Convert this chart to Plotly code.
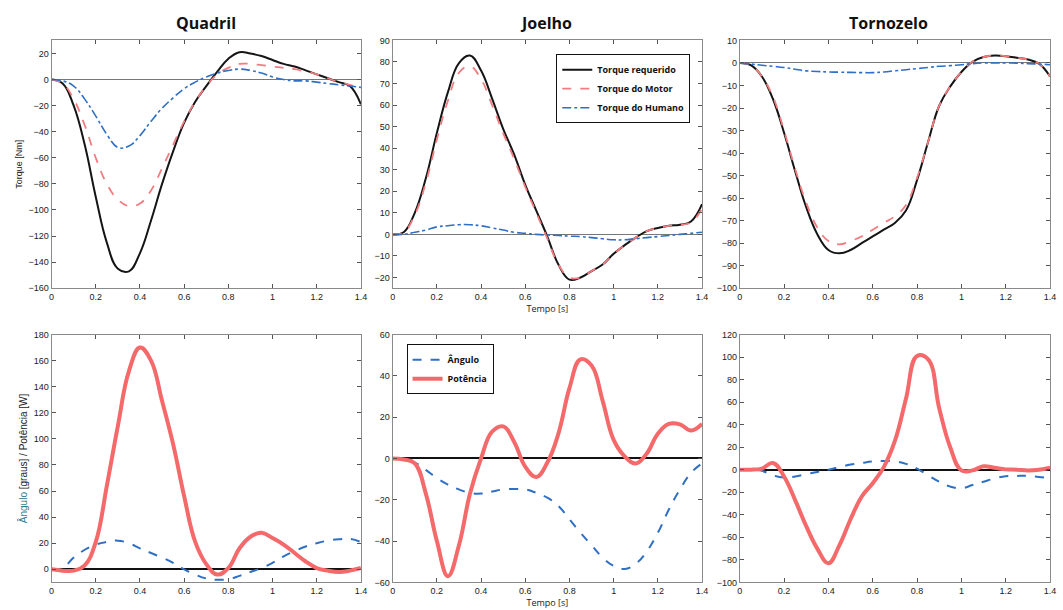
import plotly.graph_objects as go

# ---------------- data ----------------
t = [0, 0.05, 0.1, 0.15, 0.2, 0.25, 0.3, 0.35, 0.4, 0.45, 0.5, 0.55, 0.6, 0.65, 0.7,
     0.75, 0.8, 0.85, 0.9, 0.95, 1.0, 1.05, 1.1, 1.15, 1.2, 1.25, 1.3, 1.35, 1.4]

# Quadril torque
quad_req = [0, -3, -20, -50, -90, -125, -145, -147, -133, -108, -80, -55, -33, -17, -5,
            6, 16, 21, 20, 18, 15, 12, 10, 7, 4, 1, -2, -5, -19]
quad_mot = [0, -3, -15, -35, -60, -80, -92, -97, -95, -85, -68, -50, -32, -17, -5,
            4, 9, 12, 12, 11, 10, 9, 8, 6, 4, 1, -2, -4, -7]
quad_hum = [0, -1, -5, -15, -28, -42, -52, -51, -43, -32, -22, -14, -7, -2, 2,
            5, 7, 8, 7, 5, 2, 0, -1, -1, -2, -3, -4, -5, -6]

# Joelho torque
joe_req = [0, 1, 10, 26, 47, 66, 79.5, 83, 76, 63, 49, 37, 23, 11, -1,
           -14, -21, -20, -17, -14, -9, -5, -1.5, 1.5, 3, 4, 4.5, 6, 14]
joe_mot = [0, 1, 9, 24, 44, 62, 75, 78, 72, 60, 47, 35, 22, 10, -2,
           -14, -20, -20, -17, -14, -9, -5, -1.5, 1.5, 3, 4, 4.5, 5.5, 12]
joe_hum = [0, 0, 1, 2, 3.5, 4, 4.5, 4.5, 4, 3, 2, 1, 0.5, 0, -0.3,
           -0.5, -0.8, -1, -1.5, -2, -2.5, -2.5, -2, -1.5, -1, -0.5, 0, 0.5, 1]

# Tornozelo torque
tor_req = [0, -1, -6, -16, -31, -48, -64, -76, -83, -84.5, -83, -80, -77, -74, -71,
           -65.5, -52, -35, -19, -10.4, -4, 0.5, 2.6, 3.3, 3, 2.3, 1.5, -0.3, -6]
tor_mot = [0, -1, -6, -15, -30, -47, -62, -73, -79, -80.5, -79, -77, -74, -71, -68,
           -63, -51, -35, -19, -10.4, -4, 0.5, 2.6, 3.3, 3, 2.3, 1.5, -0.3, -6]
tor_hum = [0, -0.5, -1, -1.5, -2, -2.8, -3.5, -3.8, -4, -4.1, -4.2, -4.3, -4.3, -4, -3.5,
           -3, -2.5, -2, -1.5, -1.2, -0.8, -0.3, 0, 0, 0, -0.1, -0.3, -0.5, -0.8]

# Quadril power / angle
quad_pot = [0, -1, -1, 3, 21, 64, 110, 152, 170, 160, 129, 96, 56, 21, 4,
            -4, 1, 16, 25, 28, 24, 19, 12.5, 6, 1, -1, -2, -1, 1]
quad_ang = [0, 1, 9, 15, 19, 21, 22, 20, 16, 12.5, 9, 5, 0, -4, -7,
            -8, -7.5, -5, -2, 1, 5, 10, 14, 17.5, 20, 22, 23, 23.3, 21]

# Joelho power / angle
joe_pot = [0, -0.5, -2.4, -17, -40, -57, -42, -17, 0, 13, 15.5, 8, -4, -9, -2,
           12, 34, 48, 45, 28, 9, 1, -2.4, 2.4, 12, 16.7, 16.5, 13.5, 16.7]
joe_ang = [0, 0, -2, -5.5, -9.5, -12.7, -15, -16.7, -17, -16, -15, -14.8, -15, -16.7, -19,
           -23, -29.5, -36, -42, -48, -52, -53.5, -51, -45, -36, -24.7, -15, -7, -2.4]

# Tornozelo power / angle
tor_pot = [0, 0, 1, 6, -6, -27, -50, -70, -83, -67, -44, -24, -12, 2.3, 25.5,
           63, 101, 98, 54.6, 19.7, -0.6, -0.6, 3, 1.7, 0.3, 0, -0.6, 0, 1.7]
tor_ang = [0, 0, -1, -5, -7, -6, -4, -2, 0, 2.3, 4.6, 6, 7.3, 7.8, 7.3,
           5.2, 1, -5, -10.7, -15, -16.5, -13.6, -10.7, -7.8, -5.8, -5.5, -5.5, -6.4, -7.8]

titles = ["Quadril", "Joelho", "Tornozelo"]
x_ticks = [0, 0.2, 0.4, 0.6, 0.8, 1.0, 1.2, 1.4]
x_ticktext = ["0", "0.2", "0.4", "0.6", "0.8", "1", "1.2", "1.4"]

# ---------------- style ----------------
BLACK = "#151515"
RED = "#f27c80"
BLUE = "#2f6fc4"
POT = "#f4696a"

W, H = 1063, 610
xdom = [(49, 361), (393, 705), (743, 1056)]
ydom_top = (36, 288)
ydom_bot = (335, 587)

def px_x(a, b):
    return [a / W, b / W]

def px_y(top, bot):
    return [(H - bot) / H, (H - top) / H]

fig = go.Figure()

def add(xa, ya, y, name, color, width, dash, legend=None, show=False):
    fig.add_trace(go.Scatter(
        x=t, y=y, mode="lines", name=name, xaxis=xa, yaxis=ya,
        line=dict(color=color, width=width, dash=dash, shape="spline", smoothing=1.2),
        showlegend=show, legend=legend))

# top row
add("x", "y", quad_req, "Torque requerido", BLACK, 2, "solid")
add("x", "y", quad_mot, "Torque do Motor", RED, 1.8, "dash")
add("x", "y", quad_hum, "Torque do Humano", BLUE, 1.6, "dashdot")
add("x2", "y2", joe_req, "Torque requerido", BLACK, 2, "solid", "legend", True)
add("x2", "y2", joe_mot, "Torque do Motor", RED, 1.8, "dash", "legend", True)
add("x2", "y2", joe_hum, "Torque do Humano", BLUE, 1.6, "dashdot", "legend", True)
add("x3", "y3", tor_req, "Torque requerido", BLACK, 2, "solid")
add("x3", "y3", tor_mot, "Torque do Motor", RED, 1.8, "dash")
add("x3", "y3", tor_hum, "Torque do Humano", BLUE, 1.6, "dashdot")
# bottom row
add("x4", "y4", quad_ang, "Ângulo", BLUE, 2, "dash")
add("x4", "y4", quad_pot, "Potência", POT, 4, "solid")
add("x5", "y5", joe_ang, "Ângulo", BLUE, 2, "dash", "legend2", True)
add("x5", "y5", joe_pot, "Potência", POT, 4, "solid", "legend2", True)
add("x6", "y6", tor_ang, "Ângulo", BLUE, 2, "dash")
add("x6", "y6", tor_pot, "Potência", POT, 4, "solid")

yranges = [(-160, 30, 20), (-25, 90, 10), (-100, 10, 10),
           (-10, 180, 20), (-60, 60, 20), (-100, 120, 20)]

axis_common = dict(showgrid=False, showline=True, linecolor="#8a8a8a", linewidth=1,
                   mirror="ticks", ticks="inside", ticklen=4, tickcolor="#555",
                   tickfont=dict(family="Arial, Liberation Sans, sans-serif", size=9, color="#222"))

layout = dict(width=W, height=H, margin=dict(l=0, r=0, t=0, b=0),
              paper_bgcolor="white", plot_bgcolor="white")
for i in range(6):
    col = i % 3
    row = i // 3
    sfx = "" if i == 0 else str(i + 1)
    lo, hi, dt = yranges[i]
    yd = ydom_top if row == 0 else ydom_bot
    layout["xaxis" + sfx] = dict(axis_common, domain=px_x(*xdom[col]), range=[0, 1.4],
                                 tickvals=x_ticks, ticktext=x_ticktext,
                                 anchor="y" + sfx, zeroline=False)
    layout["yaxis" + sfx] = dict(axis_common, domain=px_y(*yd), range=[lo, hi], dtick=dt,
                                 anchor="x" + sfx, zeroline=True,
                                 zerolinecolor="#777" if row == 0 else "#111",
                                 zerolinewidth=1.2 if row == 0 else 2)

layout["yaxis"]["title"] = dict(text="Torque [Nm]", font=dict(size=9, color="#222",
                                family="Arial, sans-serif"), standoff=4)
layout["yaxis4"]["title"] = dict(
    text="<span style='color:#2c7f93'>Ângulo</span> [graus] / Potência [W]",
    font=dict(size=10, color="#222", family="Arial, sans-serif"), standoff=4)
layout["xaxis2"]["title"] = dict(text="Tempo [s]", font=dict(size=9, color="#222",
                                 family="Open Sans, sans-serif"), standoff=4)
layout["xaxis5"]["title"] = dict(text="Tempo [s]", font=dict(size=9, color="#222",
                                 family="Open Sans, sans-serif"), standoff=2)

legend_font = dict(family="Open Sans, sans-serif", size=9, color="#111", weight="bold")
layout["legend"] = dict(x=558 / W, y=(H - 50) / H, xanchor="left", yanchor="top",
                        bgcolor="white", bordercolor="#111", borderwidth=1,
                        font=legend_font, tracegroupgap=0, itemwidth=30)
layout["legend2"] = dict(x=407 / W, y=(H - 345) / H, xanchor="left", yanchor="top",
                         bgcolor="white", bordercolor="#111", borderwidth=1,
                         font=legend_font, tracegroupgap=0, itemwidth=30)

annotations = []
centers = [205, 548, 893]
for name, cx in zip(titles, centers):
    annotations.append(dict(text="<b>" + name + "</b>", x=cx / W, y=(H - 18) / H,
                            xref="paper", yref="paper", showarrow=False,
                            font=dict(family="Open Sans, sans-serif", size=16, color="#111"),
                            xanchor="center", yanchor="middle"))
layout["annotations"] = annotations

fig.update_layout(**layout)
fig.write_html("out.html")
